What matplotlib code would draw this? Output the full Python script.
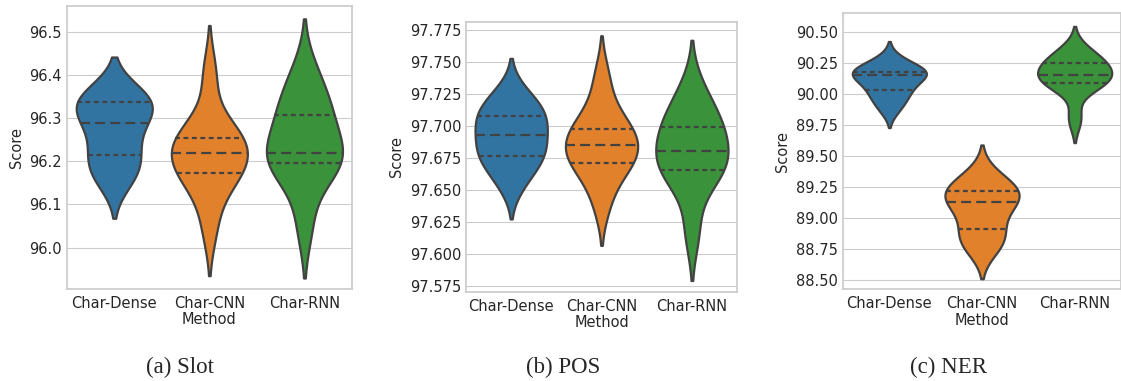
import numpy as np
import pandas as pd
import matplotlib
matplotlib.use("Agg")
import matplotlib.pyplot as plt
import seaborn as sns

methods = ["Char-Dense", "Char-CNN", "Char-RNN"]

# scores per run
slot_dense = [96.16, 96.175, 96.21, 96.23, 96.28, 96.30, 96.33, 96.34, 96.345, 96.35]
slot_cnn = [96.05, 96.15, 96.17, 96.18, 96.21, 96.23, 96.25, 96.255, 96.27, 96.40]
slot_rnn = [96.055, 96.19, 96.195, 96.20, 96.205, 96.235, 96.30, 96.31, 96.35, 96.405]

pos_dense = [97.655, 97.67, 97.675, 97.68, 97.69, 97.695, 97.705, 97.709, 97.715, 97.725]
pos_cnn = [97.64, 97.665, 97.67, 97.675, 97.683, 97.687, 97.695, 97.698, 97.71, 97.737]
pos_rnn = [97.618, 97.66, 97.665, 97.668, 97.675, 97.685, 97.698, 97.70, 97.71, 97.728]

ner_dense = [89.88, 89.96, 90.02, 90.06, 90.13, 90.17, 90.17, 90.18, 90.19, 90.27]
ner_cnn = [88.76, 88.82, 88.88, 89.00, 89.12, 89.14, 89.19, 89.23, 89.24, 89.34]
ner_rnn = [89.80, 90.06, 90.08, 90.12, 90.14, 90.16, 90.22, 90.26, 90.28, 90.35]

captions = ["(a) Slot", "(b) POS", "(c) NER"]

panels = [
    ([slot_dense, slot_cnn, slot_rnn], [0.0595, 0.2415, 0.2545, 0.7435], (95.904, 96.561),
     [96.0, 96.1, 96.2, 96.3, 96.4, 96.5], "%.1f"),
    ([pos_dense, pos_cnn, pos_rnn], [0.4157, 0.2344, 0.2418, 0.7087], (97.5703, 97.7815),
     [97.575, 97.6, 97.625, 97.65, 97.675, 97.7, 97.725, 97.75, 97.775], "%.3f"),
    ([ner_dense, ner_cnn, ner_rnn], [0.752, 0.241, 0.248, 0.724], (88.4275, 90.648),
     [88.5, 88.75, 89.0, 89.25, 89.5, 89.75, 90.0, 90.25, 90.5], "%.2f"),
]
caption_x = [180, 563, 949]

sns.set_style("whitegrid")
plt.rcParams["font.family"] = ["DejaVu Sans"]

fig = plt.figure(figsize=(11.21, 3.81), dpi=100)

for (groups, rect, ylim, ticks, fmt), cap, cx in zip(panels, captions, caption_x):
    ax = fig.add_axes(rect)
    df = pd.DataFrame({
        "Method": np.repeat(methods, [len(g) for g in groups]),
        "Score": np.concatenate(groups),
    })
    sns.violinplot(data=df, x="Method", y="Score", hue="Method", order=methods,
                   palette="tab10", inner="quart", density_norm="width",
                   linewidth=1.6, linecolor="#424242", legend=False, ax=ax)
    # quartiles short dashes, median long dashes
    for i, ln in enumerate(ax.lines):
        ln.set_dashes((4.5, 2.3) if i % 3 == 1 else (2.2, 1.6))
    ax.set_ylim(*ylim)
    ax.set_yticks(ticks)
    ax.set_yticklabels([fmt % t for t in ticks])
    ax.tick_params(labelsize=10.5, colors="#262626", length=0)
    ax.tick_params(axis="x", pad=5)
    ax.set_xlabel("Method", fontsize=10.5, color="#262626", labelpad=1)
    ax.set_ylabel("Score", fontsize=10.5, color="#262626")
    for s in ax.spines.values():
        s.set_color("#cccccc")
        s.set_linewidth(1.25)
    fig.text(cx / 1121, 1 - 367.5 / 381, cap, ha="center", va="center",
             fontsize=16.5, family="Liberation Serif")

fig.savefig("out.png", dpi=100)
